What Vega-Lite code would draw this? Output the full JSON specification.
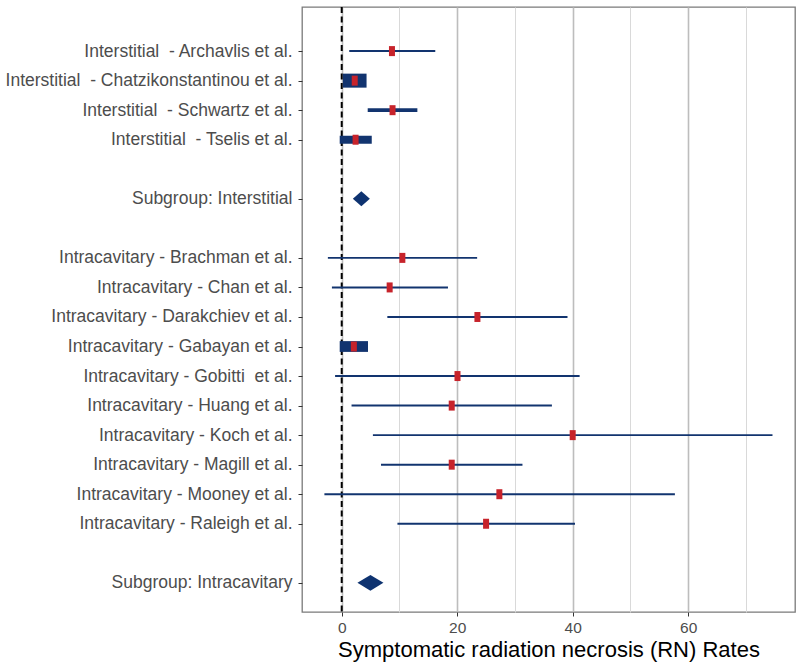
{
  "$schema": "https://vega.github.io/schema/vega-lite/v6.json",
  "width": 493,
  "height": 605,
  "autosize": {"type": "none"},
  "padding": {"left": 302, "top": 7, "right": 5, "bottom": 58},
  "background": "white",
  "config": {
    "view": {"stroke": "#7a7a7a", "strokeWidth": 1.3},
    "font": "Liberation Sans"
  },
  "datasets": {
    "rows": [
      {"label": "Interstitial\u00a0 - Archavlis et al.", "group": "Interstitial", "kind": "study", "est": 8.7, "lo": 1.3, "hi": 16.2, "wt": 14},
      {"label": "Interstitial\u00a0 - Chatzikonstantinou et al.", "group": "Interstitial", "kind": "study", "est": 2.25, "lo": 0.2, "hi": 4.3, "wt": 100},
      {"label": "Interstitial\u00a0 - Schwartz et al.", "group": "Interstitial", "kind": "study", "est": 8.8, "lo": 4.5, "hi": 13.1, "wt": 27},
      {"label": "Interstitial\u00a0 - Tselis et al.", "group": "Interstitial", "kind": "study", "est": 2.4, "lo": -0.35, "hi": 5.2, "wt": 57},
      {"label": "Subgroup: Interstitial", "group": "Interstitial", "kind": "subgroup", "est": 3.4, "lo": 1.96, "hi": 5.0, "wt": 0},
      {"label": "Intracavitary - Brachman et al.", "group": "Intracavitary", "kind": "study", "est": 10.5, "lo": -2.4, "hi": 23.45, "wt": 14},
      {"label": "Intracavitary - Chan et al.", "group": "Intracavitary", "kind": "study", "est": 8.3, "lo": -1.7, "hi": 18.4, "wt": 14},
      {"label": "Intracavitary - Darakchiev et al.", "group": "Intracavitary", "kind": "study", "est": 23.5, "lo": 7.9, "hi": 39.1, "wt": 14},
      {"label": "Intracavitary - Gabayan et al.", "group": "Intracavitary", "kind": "study", "est": 2.1, "lo": -0.35, "hi": 4.55, "wt": 77},
      {"label": "Intracavitary - Gobitti\u00a0 et al.", "group": "Intracavitary", "kind": "study", "est": 20.05, "lo": -1.15, "hi": 41.2, "wt": 14},
      {"label": "Intracavitary - Huang et al.", "group": "Intracavitary", "kind": "study", "est": 19.05, "lo": 1.7, "hi": 36.4, "wt": 14},
      {"label": "Intracavitary - Koch et al.", "group": "Intracavitary", "kind": "study", "est": 40.0, "lo": 5.4, "hi": 74.6, "wt": 14},
      {"label": "Intracavitary - Magill et al.", "group": "Intracavitary", "kind": "study", "est": 19.05, "lo": 6.8, "hi": 31.3, "wt": 14},
      {"label": "Intracavitary - Mooney et al.", "group": "Intracavitary", "kind": "study", "est": 27.3, "lo": -3.0, "hi": 57.7, "wt": 14},
      {"label": "Intracavitary - Raleigh et al.", "group": "Intracavitary", "kind": "study", "est": 25.0, "lo": 9.65, "hi": 40.4, "wt": 14},
      {"label": "Subgroup: Intracavitary", "group": "Intracavitary", "kind": "subgroup", "est": 4.97, "lo": 2.72, "hi": 7.23, "wt": 0}
    ],
    "ref": [{"x0": 0}]
  },
  "data": {"name": "rows"},
  "layer": [
    {
      "data": {"name": "ref"},
      "mark": {"type": "rule", "color": "#000000", "strokeWidth": 2, "strokeDash": [6, 3.5]},
      "encoding": {
        "x": {
          "field": "x0",
          "type": "quantitative",
          "scale": {"domain": [-6.88, 78.5], "nice": false, "zero": false},
          "axis": {
            "values": [0, 10, 20, 30, 40, 50, 60, 70],
            "labelExpr": "datum.value % 20 == 0 ? datum.label : ''",
            "title": "Symptomatic radiation necrosis (RN) Rates",
            "titleFont": "Liberation Sans",
            "titleFontSize": 22,
            "titleFontWeight": "normal",
            "titleColor": "#000000",
            "titlePadding": 4,
            "labelFont": "Liberation Sans",
            "labelFontSize": 15.5,
            "labelColor": "#4d4d4d",
            "labelPadding": 4,
            "domain": false,
            "tickSize": 4,
            "tickColor": "#333333",
            "tickOpacity": {"condition": {"test": "datum.value % 20 == 0", "value": 1}, "value": 0},
            "grid": true,
            "gridColor": {"condition": {"test": "datum.value % 20 == 0", "value": "#bdbdbd"}, "value": "#d9d9d9"},
            "gridWidth": {"condition": {"test": "datum.value % 20 == 0", "value": 1.6}, "value": 1},
            "gridOpacity": 1
          }
        }
      }
    },
    {
      "transform": [{"filter": "datum.kind == 'study'"}],
      "mark": {"type": "rule", "color": "#12346f", "strokeCap": "butt"},
      "encoding": {
        "y": {
          "field": "label",
          "type": "nominal",
          "scale": {
            "type": "point",
            "domain": [
              "",
              "Interstitial\u00a0 - Archavlis et al.",
              "Interstitial\u00a0 - Chatzikonstantinou et al.",
              "Interstitial\u00a0 - Schwartz et al.",
              "Interstitial\u00a0 - Tselis et al.",
              " ",
              "Subgroup: Interstitial",
              "  ",
              "Intracavitary - Brachman et al.",
              "Intracavitary - Chan et al.",
              "Intracavitary - Darakchiev et al.",
              "Intracavitary - Gabayan et al.",
              "Intracavitary - Gobitti\u00a0 et al.",
              "Intracavitary - Huang et al.",
              "Intracavitary - Koch et al.",
              "Intracavitary - Magill et al.",
              "Intracavitary - Mooney et al.",
              "Intracavitary - Raleigh et al.",
              "   ",
              "Subgroup: Intracavitary"
            ],
            "padding": 0.74,
            "align": 0.333
          },
          "axis": {
            "title": null,
            "labelFont": "Liberation Sans",
            "labelFontSize": 17.5,
            "labelColor": "#4d4d4d",
            "labelPadding": 6,
            "labelLimit": 0,
            "domain": false,
            "grid": false,
            "tickSize": 4,
            "tickColor": "#333333",
            "tickOpacity": {"condition": {"test": "trim(datum.value) == ''", "value": 0}, "value": 1}
          }
        },
        "x": {"field": "lo", "type": "quantitative"},
        "x2": {"field": "hi"},
        "strokeWidth": {"field": "wt", "type": "quantitative", "scale": {"domain": [0, 100], "range": [0, 14]}, "legend": null}
      }
    },
    {
      "transform": [{"filter": "datum.kind == 'study'"}],
      "mark": {"type": "point", "filled": true, "opacity": 1, "color": "#c7232b", "shape": "M-0.6,-1H0.6V1H-0.6Z", "size": 100},
      "encoding": {
        "y": {"field": "label", "type": "nominal"},
        "x": {"field": "est", "type": "quantitative"}
      }
    },
    {
      "transform": [{"filter": "datum.kind == 'subgroup'"}],
      "mark": {"type": "point", "filled": true, "opacity": 1, "color": "#0e3370"},
      "encoding": {
        "y": {"field": "label", "type": "nominal"},
        "x": {"field": "est", "type": "quantitative"},
        "shape": {"field": "group", "type": "nominal", "scale": {"domain": ["Interstitial", "Intracavitary"], "range": ["M-1,0L0,-0.88L1,0L0,0.88Z", "M-1,0L0,-0.6L1,0L0,0.6Z"]}, "legend": null},
        "size": {"field": "group", "type": "ordinal", "scale": {"domain": ["Interstitial", "Intracavitary"], "range": [289, 676]}, "legend": null}
      }
    }
  ]
}
